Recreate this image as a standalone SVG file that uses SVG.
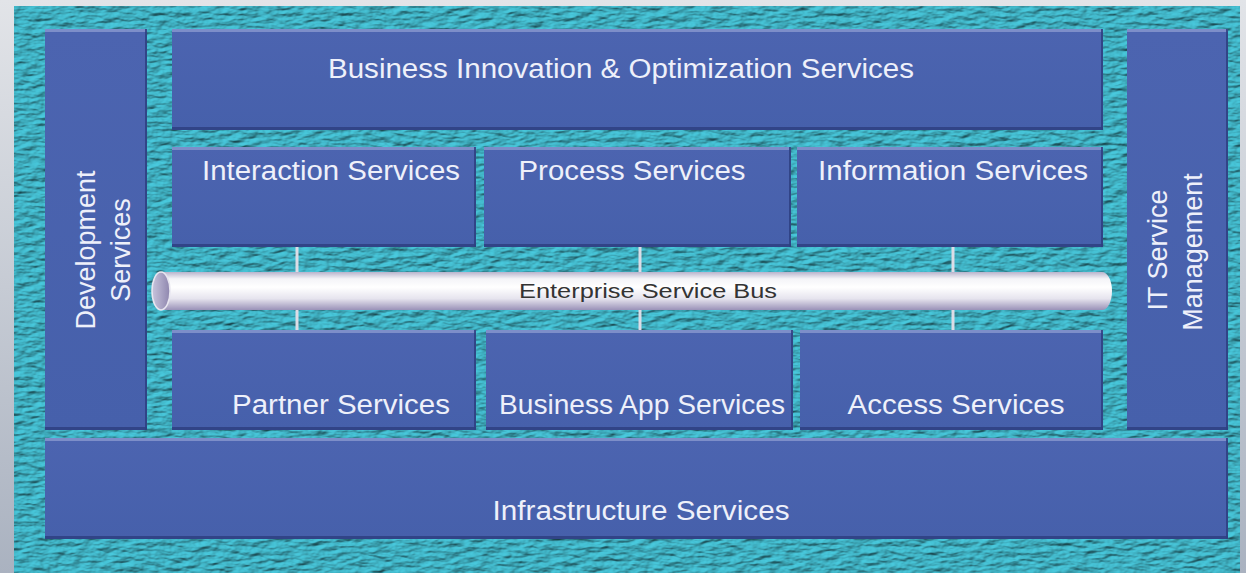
<svg xmlns="http://www.w3.org/2000/svg" width="1246" height="573" viewBox="0 0 1246 573">
<defs>
  <linearGradient id="side" x1="0" y1="0" x2="0" y2="1">
    <stop offset="0" stop-color="#e2e4e8"/>
    <stop offset="1" stop-color="#aab2c0"/>
  </linearGradient>
  <filter id="tex" x="0" y="0" width="100%" height="100%" color-interpolation-filters="sRGB">
    <feTurbulence type="fractalNoise" baseFrequency="0.07 0.2" numOctaves="3" seed="7" result="n"/>
    <feDiffuseLighting in="n" surfaceScale="2.2" diffuseConstant="1" lighting-color="#4cd0e4" result="l">
      <feDistantLight azimuth="235" elevation="58"/>
    </feDiffuseLighting>
    <feComposite in="l" in2="SourceGraphic" operator="in"/>
  </filter>
  <linearGradient id="boxg" x1="0" y1="0" x2="0" y2="1">
    <stop offset="0" stop-color="#4c64b0"/>
    <stop offset="1" stop-color="#4660ab"/>
  </linearGradient>
  <linearGradient id="pipe" x1="0" y1="0" x2="0" y2="1">
    <stop offset="0" stop-color="#b8b4cc"/>
    <stop offset="0.18" stop-color="#f4f4f8"/>
    <stop offset="0.4" stop-color="#ffffff"/>
    <stop offset="0.7" stop-color="#e6e4ee"/>
    <stop offset="1" stop-color="#9a92b8"/>
  </linearGradient>
  <linearGradient id="cap" x1="0" y1="0" x2="1" y2="0">
    <stop offset="0" stop-color="#c8c4dc"/>
    <stop offset="1" stop-color="#8e86ae"/>
  </linearGradient>
  <style>
    .box{fill:url(#boxg);}
    .hi{fill:#8a98cf;opacity:0.8;}
    .sh{fill:#2e3f80;opacity:0.85;}
    .lbl{font-family:"Liberation Sans",Arial,sans-serif;font-size:27px;fill:#eef0fa;}
    .bus{font-family:"Liberation Sans",Arial,sans-serif;font-size:20px;fill:#333333;}
    .con{stroke:#dcdce6;stroke-width:3;}
  </style>
</defs>

<!-- background -->
<rect x="0" y="0" width="1246" height="573" fill="url(#side)"/>
<rect x="14" y="6" width="1226" height="567" fill="#3aa8bb"/>
<rect x="14" y="6" width="1226" height="567" fill="#000" filter="url(#tex)" opacity="0.85"/>

<!-- connectors -->
<g id="connectors">
  <line class="con" x1="297" y1="247" x2="297" y2="274"/>
  <line class="con" x1="297" y1="309" x2="297" y2="330"/>
  <line class="con" x1="640" y1="247" x2="640" y2="274"/>
  <line class="con" x1="640" y1="309" x2="640" y2="330"/>
  <line class="con" x1="953" y1="247" x2="953" y2="274"/>
  <line class="con" x1="953" y1="309" x2="953" y2="330"/>
</g>

<g id="dev">
  <rect class="box" x="45" y="29" width="102" height="401"/>
  <rect class="hi" x="45" y="29" width="102" height="3"/>
  <rect class="sh" x="45" y="427" width="102" height="3"/>
  <rect class="sh" x="145" y="29" width="2" height="401"/>
  <text class="lbl" text-anchor="middle" transform="translate(95,250) rotate(-90)">Development</text>
  <text class="lbl" text-anchor="middle" transform="translate(130,250) rotate(-90)">Services</text>
</g>

<g id="bio">
  <rect class="box" x="172" y="29" width="931" height="101"/>
  <rect class="hi" x="172" y="29" width="931" height="3"/>
  <rect class="sh" x="172" y="127" width="931" height="3"/>
  <rect class="sh" x="1101" y="29" width="2" height="101"/>
  <text class="lbl" x="621" y="78" text-anchor="middle" textLength="586" lengthAdjust="spacingAndGlyphs">Business Innovation &amp; Optimization Services</text>
</g>

<g id="itsm">
  <rect class="box" x="1127" y="29" width="101" height="401"/>
  <rect class="hi" x="1127" y="29" width="101" height="3"/>
  <rect class="sh" x="1127" y="427" width="101" height="3"/>
  <rect class="sh" x="1226" y="29" width="2" height="401"/>
  <text class="lbl" text-anchor="middle" transform="translate(1167,250) rotate(-90)">IT Service</text>
  <text class="lbl" text-anchor="middle" transform="translate(1202,252) rotate(-90)">Management</text>
</g>

<g id="interaction">
  <rect class="box" x="172" y="147" width="304" height="100"/>
  <rect class="hi" x="172" y="147" width="304" height="3"/>
  <rect class="sh" x="172" y="244" width="304" height="3"/>
  <rect class="sh" x="474" y="147" width="2" height="100"/>
  <text class="lbl" x="331" y="180" text-anchor="middle" textLength="258" lengthAdjust="spacingAndGlyphs">Interaction Services</text>
</g>

<g id="process">
  <rect class="box" x="484" y="147" width="307" height="100"/>
  <rect class="hi" x="484" y="147" width="307" height="3"/>
  <rect class="sh" x="484" y="244" width="307" height="3"/>
  <rect class="sh" x="789" y="147" width="2" height="100"/>
  <text class="lbl" x="632" y="180" text-anchor="middle" textLength="227" lengthAdjust="spacingAndGlyphs">Process Services</text>
</g>

<g id="information">
  <rect class="box" x="797" y="147" width="306" height="100"/>
  <rect class="hi" x="797" y="147" width="306" height="3"/>
  <rect class="sh" x="797" y="244" width="306" height="3"/>
  <rect class="sh" x="1101" y="147" width="2" height="100"/>
  <text class="lbl" x="953" y="180" text-anchor="middle" textLength="270" lengthAdjust="spacingAndGlyphs">Information Services</text>
</g>

<g id="esb">
  <path d="M161,272 H1102 A10,19 0 0 1 1102,310 H161 Z" fill="url(#pipe)"/>
  <ellipse cx="161" cy="291" rx="9" ry="19" fill="url(#cap)" stroke="#e8e6f0" stroke-width="1.5"/>
  <text class="bus" x="648" y="298" text-anchor="middle" textLength="258" lengthAdjust="spacingAndGlyphs">Enterprise Service Bus</text>
</g>

<g id="partner">
  <rect class="box" x="172" y="330" width="304" height="100"/>
  <rect class="hi" x="172" y="330" width="304" height="3"/>
  <rect class="sh" x="172" y="427" width="304" height="3"/>
  <rect class="sh" x="474" y="330" width="2" height="100"/>
  <text class="lbl" x="341" y="414" text-anchor="middle" textLength="218" lengthAdjust="spacingAndGlyphs">Partner Services</text>
</g>

<g id="bizapp">
  <rect class="box" x="486" y="330" width="307" height="100"/>
  <rect class="hi" x="486" y="330" width="307" height="3"/>
  <rect class="sh" x="486" y="427" width="307" height="3"/>
  <rect class="sh" x="791" y="330" width="2" height="100"/>
  <text class="lbl" x="642" y="414" text-anchor="middle" textLength="286" lengthAdjust="spacingAndGlyphs">Business App Services</text>
</g>

<g id="access">
  <rect class="box" x="800" y="330" width="303" height="100"/>
  <rect class="hi" x="800" y="330" width="303" height="3"/>
  <rect class="sh" x="800" y="427" width="303" height="3"/>
  <rect class="sh" x="1101" y="330" width="2" height="100"/>
  <text class="lbl" x="956" y="414" text-anchor="middle" textLength="217" lengthAdjust="spacingAndGlyphs">Access Services</text>
</g>

<g id="infra">
  <rect class="box" x="45" y="438" width="1183" height="101"/>
  <rect class="hi" x="45" y="438" width="1183" height="3"/>
  <rect class="sh" x="45" y="536" width="1183" height="3"/>
  <rect class="sh" x="1226" y="438" width="2" height="101"/>
  <text class="lbl" x="641" y="520" text-anchor="middle" textLength="297" lengthAdjust="spacingAndGlyphs">Infrastructure Services</text>
</g>
</svg>
